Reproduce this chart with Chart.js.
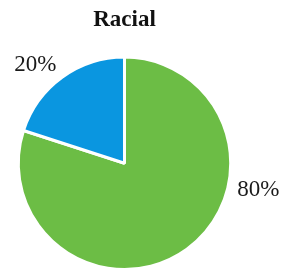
<!DOCTYPE html>
<html>
<head>
<meta charset="utf-8">
<script src="https://cdn.jsdelivr.net/npm/chart.js@4"></script>
<style>
    html, body { margin: 0; padding: 0; background: #fff; }
    #wrap { width: 299px; height: 277px; }
</style>
</head>
<body>
<div id="wrap"><canvas id="pieChart"></canvas></div>
<script>
const chartTitle = "Racial";
const categories = ["Other", "Minority"];
const shares = [80, 20];
const sliceColors = ['#6cbd45', '#0a96e0'];

// label spots, as fractions of the radius from the centre (excel style placement)
const labelOffsets = [[1.26, 0.25], [-0.84, -0.93]];

const pieLabels = {
    id: 'pieLabels',
    afterDatasetsDraw(chart) {
        const ctx = chart.ctx;
        const arcs = chart.getDatasetMeta(0).data;
        ctx.save();
        ctx.font = '23px "Liberation Serif", "Times New Roman", serif';
        ctx.fillStyle = '#1a1a1a';
        ctx.textAlign = 'center';
        ctx.textBaseline = 'middle';
        arcs.forEach((arc, i) => {
            const r = arc.outerRadius;
            const x = arc.x + labelOffsets[i][0] * r;
            const y = arc.y + labelOffsets[i][1] * r;
            ctx.fillText(shares[i] + '%', x, y);
        });
        ctx.restore();
    }
};

function createPieChart() {
    const ctx = document.getElementById("pieChart").getContext("2d");
    new Chart(ctx, {
        type: 'pie',
        data: {
            labels: categories,
            datasets: [{
                data: shares,
                backgroundColor: sliceColors,
                borderColor: '#ffffff',
                borderWidth: 3
            }]
        },
        options: {
            responsive: true,
            maintainAspectRatio: false,
            animation: false,
            layout: { padding: { top: 0, left: 16, right: 66, bottom: 6 } },
            plugins: {
                legend: { display: false },
                tooltip: { enabled: false },
                title: {
                    display: true,
                    text: chartTitle,
                    color: '#111',
                    font: { family: '"Liberation Serif", "Times New Roman", serif', size: 23, weight: 'bold', lineHeight: 1.2 },
                    padding: { top: 6, bottom: 22 }
                }
            }
        },
        plugins: [pieLabels]
    });
}

document.addEventListener("DOMContentLoaded", createPieChart);
</script>
</body>
</html>
